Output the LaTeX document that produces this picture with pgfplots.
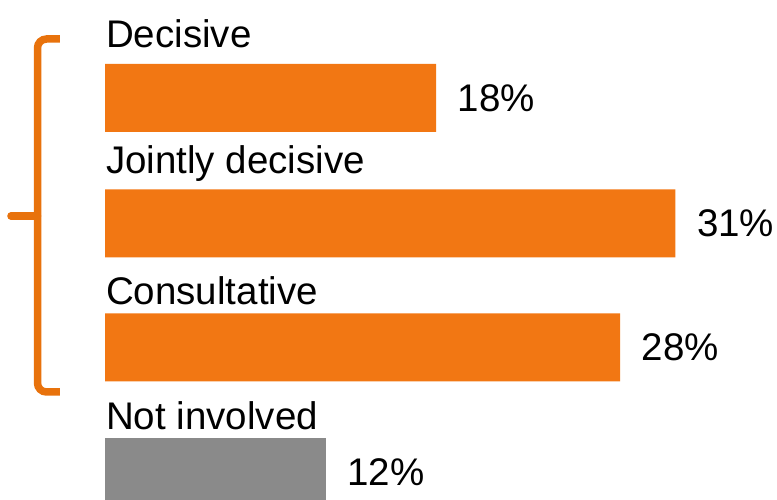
\documentclass[border=0pt]{standalone}
\usepackage{fontspec}
\setmainfont{Liberation Sans}
\usepackage{pgfplots}
\pgfplotsset{compat=1.18}
\definecolor{barorange}{HTML}{F27713}
\definecolor{braceorange}{HTML}{E8720C}
\definecolor{bargrey}{HTML}{8A8A8A}
\begin{document}
\begin{tikzpicture}
\begin{axis}[
  width=777bp, height=500bp, scale only axis,
  xmin=-5.7065, xmax=36.52,
  ymin=0, ymax=500, y dir=reverse,
  hide axis,
  xbar, bar shift=0pt, bar width=68,
  clip=true,
  point meta=x,
  nodes near coords={\pgfmathprintnumber[assume math mode=true]{\pgfplotspointmeta}\%},
  every node near coord/.append style={anchor=west, inner sep=0pt, xshift=21.5bp,
    font=\fontsize{38.5bp}{42bp}\selectfont, text=black},
]
\addplot[fill=barorange, draw=none] coordinates {(18,98) (31,223.5) (28,347.5)};
\addplot[fill=bargrey, draw=none] coordinates {(12,472)};

\node[anchor=base west, inner sep=0pt, font=\fontsize{38.5bp}{42bp}\selectfont] at (axis cs:0.05,48) {Decisive};
\node[anchor=base west, inner sep=0pt, font=\fontsize{38.5bp}{42bp}\selectfont] at (axis cs:0.05,174) {Jointly decisive};
\node[anchor=base west, inner sep=0pt, font=\fontsize{38.5bp}{42bp}\selectfont] at (axis cs:0.05,305) {Consultative};
\node[anchor=base west, inner sep=0pt, font=\fontsize{38.5bp}{42bp}\selectfont] at (axis cs:0.05,430) {Not involved};

\draw[braceorange, line width=7.5bp, rounded corners=9bp]
  (axis cs:-2.446,39) -- (axis cs:-3.668,39) -- (axis cs:-3.668,392) -- (axis cs:-2.446,392);
\draw[braceorange, line width=7.5bp, line cap=round]
  (axis cs:-3.668,216) -- (axis cs:-5.109,216);
\end{axis}
\pgfresetboundingbox
\useasboundingbox (current axis.south west) rectangle (current axis.north east);
\end{tikzpicture}
\end{document}
